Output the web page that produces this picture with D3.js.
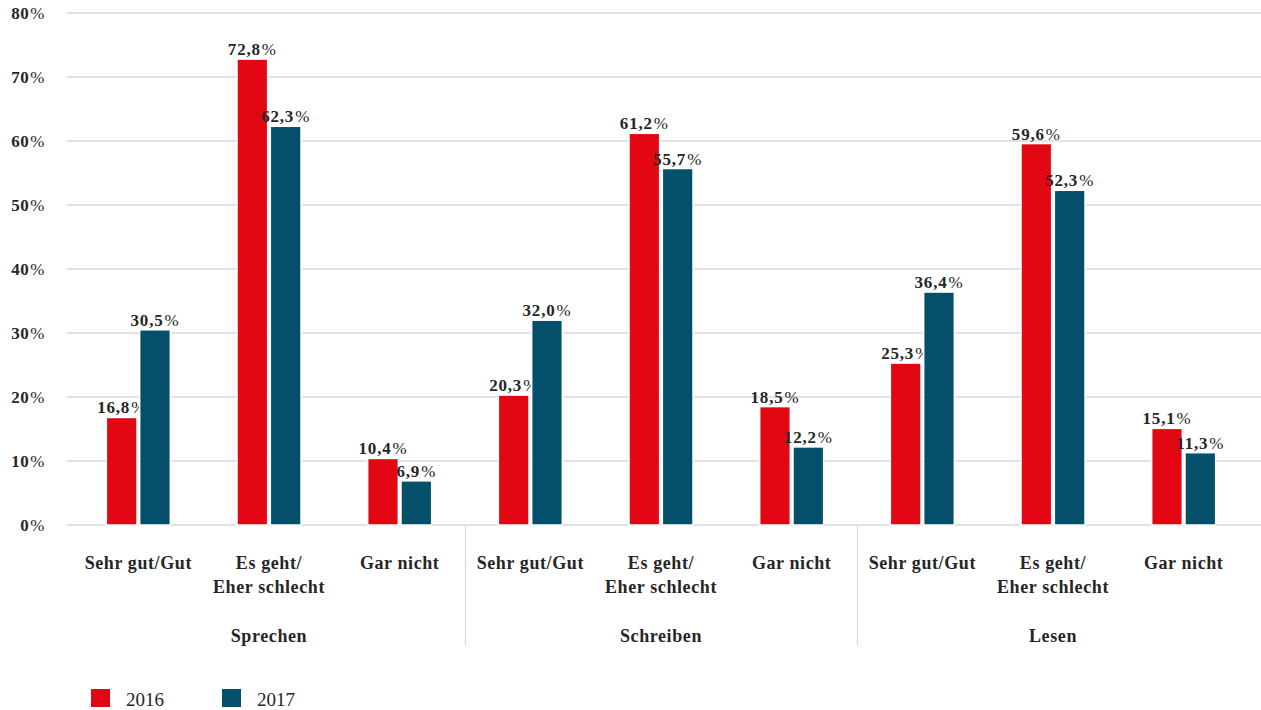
<!DOCTYPE html>
<html>
<head>
<meta charset="utf-8">
<script src="https://cdn.jsdelivr.net/npm/d3@7"></script>
<style>
  body { margin: 0; background: #fff; }
  text { font-family: "Liberation Serif", "DejaVu Serif", serif; fill: #262626; }
</style>
</head>
<body>
<div id="chart"></div>
<script>
// Chart data
const groups = ["Sprechen", "Schreiben", "Lesen"];
const answers = ["Sehr gut/Gut", "Es geht/\nEher schlecht", "Gar nicht"];
const years = ["2016", "2017"];
const values2016 = [16.8, 72.8, 10.4, 20.3, 61.2, 18.5, 25.3, 59.6, 15.1];
const values2017 = [30.5, 62.3, 6.9, 32.0, 55.7, 12.2, 36.4, 52.3, 11.3];
const yTicks = [0, 10, 20, 30, 40, 50, 60, 70, 80];
const colors = ["#e30613", "#04506a"];

const width = 1261, height = 710;
const svg = d3.select("#chart").append("svg")
  .attr("width", width)
  .attr("height", height);

// Scales
const y = d3.scaleLinear().domain([0, 80]).range([525, 13]);
const xGroup = d3.scaleBand().domain(groups).range([73, 1249]);
const xCat = d3.scaleBand().domain(d3.range(3)).range([0, xGroup.bandwidth()]);
const xYear = d3.scaleBand().domain(years).range([-32, 32]).paddingInner(0.08);

const fmt = d => d.toFixed(1).replace(".", ",");

// Grid + y labels
svg.append("g").selectAll("line").data(yTicks).join("line")
  .attr("x1", 67).attr("x2", width)
  .attr("y1", d => y(d)).attr("y2", d => y(d))
  .attr("stroke", "#d9d9d9").attr("stroke-width", 1.3);

const yl = svg.append("g").selectAll("text").data(yTicks).join("text")
  .attr("x", 45).attr("y", d => y(d) + 6)
  .attr("text-anchor", "end")
  .style("font-size", "17px")
  .style("letter-spacing", "0.5px");
yl.append("tspan").attr("font-weight", "bold").text(d => d);
yl.append("tspan").attr("dx", 1).text("%");

// Group separators
svg.append("g").selectAll("line").data(groups.slice(1)).join("line")
  .attr("x1", d => Math.round(xGroup(d)) + 0.5).attr("x2", d => Math.round(xGroup(d)) + 0.5)
  .attr("y1", y(0)).attr("y2", 645)
  .attr("stroke", "#d9d9d9").attr("stroke-width", 1.3);

// Flattened rows
const rows = [];
groups.forEach((g, gi) => {
  answers.forEach((a, ai) => {
    const i = gi * 3 + ai;
    const cx = xGroup(g) + xCat(ai) + xCat.bandwidth() / 2;
    rows.push({ g, a, ai, cx, vals: [values2016[i], values2017[i]] });
  });
});

// Bars
const bars = svg.append("g");
rows.forEach(r => {
  years.forEach((yr, k) => {
    const x0 = r.cx + xYear(yr);
    bars.append("rect")
      .attr("x", x0).attr("width", xYear.bandwidth())
      .attr("y", y(r.vals[k])).attr("height", y(0) - y(r.vals[k]))
      .attr("fill", colors[k])
      .attr("stroke", "#fff").attr("stroke-width", 1.5);
    const t = bars.append("text")
      .attr("x", x0 + xYear.bandwidth() / 2)
      .attr("y", y(r.vals[k]) - 4)
      .attr("text-anchor", "middle")
      .style("font-size", "17px")
      .style("letter-spacing", "0.8px");
    t.append("tspan").attr("font-weight", "bold").text(fmt(r.vals[k]));
    t.append("tspan").attr("dx", 1).text("%");
  });
});

// Category labels
rows.forEach(r => {
  const lines = answers[r.ai].split("\n");
  const t = svg.append("text")
    .attr("x", r.cx).attr("y", 569)
    .attr("text-anchor", "middle")
    .attr("font-weight", "bold")
    .style("font-size", "18px")
    .style("letter-spacing", "0.6px");
  lines.forEach((l, li) => {
    t.append("tspan").attr("x", r.cx).attr("dy", li ? 24 : 0).text(l);
  });
});

// Group labels
svg.append("g").selectAll("text").data(groups).join("text")
  .attr("x", d => xGroup(d) + xGroup.bandwidth() / 2)
  .attr("y", 642)
  .attr("text-anchor", "middle")
  .attr("font-weight", "bold")
  .style("font-size", "18px")
  .style("letter-spacing", "0.6px")
  .text(d => d);

// Legend
const legend = svg.append("g").selectAll("g").data(years).join("g")
  .attr("transform", (d, i) => `translate(${91 + i * 131},689)`);
legend.append("rect").attr("width", 19).attr("height", 18)
  .attr("fill", (d, i) => colors[i]);
legend.append("text").attr("x", 35).attr("y", 17)
  .style("font-size", "19px")
  .text(d => d);
</script>
</body>
</html>
